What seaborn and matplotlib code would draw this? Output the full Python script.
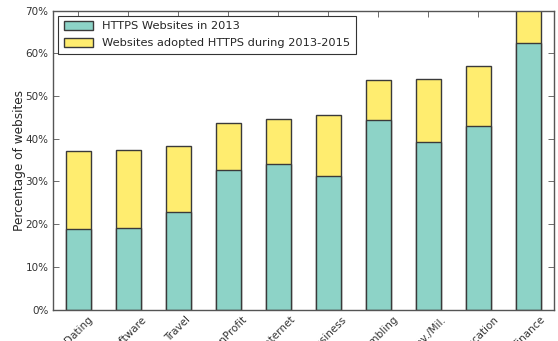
import matplotlib
matplotlib.use("Agg")
import matplotlib.pyplot as plt
from matplotlib.ticker import FuncFormatter, MultipleLocator
import seaborn as sns
import pandas as pd

# Share of websites using HTTPS, by category
categories = ["Dating", "Software", "Travel", "NonProfit", "Internet",
              "Business", "Gambling", "Gov./Mil.", "Education", "Finance"]
https_2013 = [18.9, 19.1, 22.9, 32.6, 34.0, 31.2, 44.3, 39.3, 42.9, 62.3]
https_2015 = [37.2, 37.3, 38.4, 43.8, 44.7, 45.5, 53.7, 54.0, 57.0, 72.0]

label_2013 = "HTTPS Websites in 2013"
label_new = "Websites adopted HTTPS during 2013-2015"

teal = "#8dd3c7"
yellow = "#ffed6f"
edge = "#3a3a3a"

sns.set_style("white")
plt.rcParams["font.family"] = ["DejaVu Sans"]

df = pd.DataFrame({"category": categories,
                   "base": https_2013,
                   "total": https_2015})

fig = plt.figure(figsize=(5.58, 3.41), dpi=100)
ax = fig.add_axes([0.0955, 0.092, 0.8965, 0.877])

# total (2015) drawn first, 2013 share stacked underneath on top of it
sns.barplot(data=df, x="category", y="total", color=yellow, saturation=1,
            width=0.5, edgecolor=edge, linewidth=1.0, ax=ax, label=label_new)
sns.barplot(data=df, x="category", y="base", color=teal, saturation=1,
            width=0.5, edgecolor=edge, linewidth=1.0, ax=ax, label=label_2013)

ax.set_xlim(-0.5, len(categories) - 0.5)
ax.set_ylim(0, 70)
ax.yaxis.set_major_locator(MultipleLocator(10))
ax.yaxis.set_major_formatter(FuncFormatter(lambda v, _: f"{v:.0f}%"))

ax.set_xlabel("")
ax.set_ylabel("Percentage of websites", fontsize=8.7)
ax.yaxis.set_label_coords(-0.055, 0.5)
ax.set_xticks(range(len(categories)))
ax.set_xticklabels(categories, rotation=45, ha="center", fontsize=7.5)
ax.tick_params(axis="y", labelsize=7.5, colors="#333333")
ax.tick_params(axis="x", colors="#333333")
ax.tick_params(direction="in", length=4, width=0.6, color="#555555",
               top=True, right=True, bottom=True, left=True)

for s in ax.spines.values():
    s.set_visible(True)
    s.set_color("#555555")
    s.set_linewidth(1.0)

handles, labels = ax.get_legend_handles_labels()
order = [labels.index(label_2013), labels.index(label_new)]
leg = ax.legend([handles[i] for i in order], [labels[i] for i in order],
                loc="upper left", fontsize=8.2, frameon=True, fancybox=False,
                edgecolor="#333333", framealpha=1, borderaxespad=0.45,
                handlelength=2.6, handleheight=0.9, labelspacing=0.55,
                borderpad=0.45, handletextpad=0.8)
leg.get_frame().set_linewidth(0.8)

fig.savefig("out.png", dpi=100)
